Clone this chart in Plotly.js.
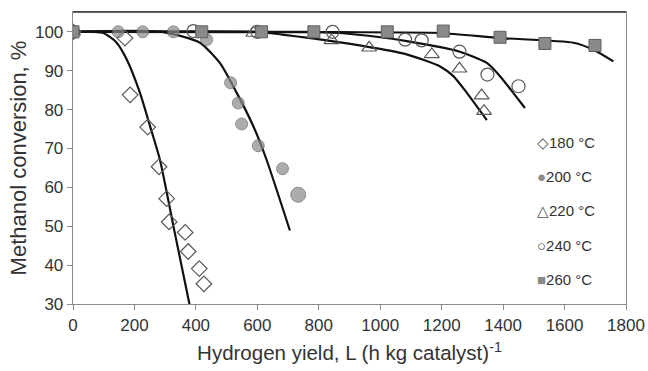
<!DOCTYPE html>
<html>
<head>
<meta charset="utf-8">
<script src="https://cdn.plot.ly/plotly-3.0.1.min.js"></script>
<style>html,body{margin:0;padding:0;background:#fff;}#chart{width:648px;height:371px;}</style>
</head>
<body>
<div id="chart"></div>
<script>
// Measured points
const x180 = [0, 169, 186, 243, 280, 305, 313, 365, 375, 411, 426];
const y180 = [100, 98.4, 83.8, 75.5, 65.3, 57.1, 51.1, 48.4, 43.5, 39.1, 35.2];
const x200 = [0, 147, 227, 327, 435, 513, 538, 549, 603, 682, 733];
const y200 = [100, 100, 100, 100, 98.0, 86.9, 81.7, 76.3, 70.7, 64.8, 58.1];
const s200 = [12, 12, 12, 12, 12, 12, 12, 12, 12, 12, 15];
const x220 = [0, 587, 842, 964, 1168, 1258, 1330, 1338];
const y220 = [100, 99.7, 97.8, 95.9, 94.2, 90.5, 83.6, 79.6];
const x240 = [0, 392, 600, 845, 1081, 1135, 1258, 1349, 1450];
const y240 = [100, 100.2, 100, 100, 98.0, 97.8, 94.9, 89.0, 86.0];
const x260 = [0, 419, 614, 784, 1023, 1205, 1390, 1536, 1699];
const y260 = [100, 100, 100, 100, 100, 100.2, 98.6, 97.0, 96.5];

// Model curves
const fx180 = [0, 66, 99, 140, 175, 218, 251, 283, 330, 379];
const fy180 = [100, 100, 99.7, 97.4, 92.9, 84.3, 75.7, 67.1, 48.8, 30];
const fx200 = [0, 290, 413, 478, 533, 587, 630, 706];
const fy200 = [100, 100, 97.2, 92.0, 84.3, 75.7, 67.1, 48.9];
const fx220 = [0, 600, 680, 780, 870, 1000, 1086, 1195, 1238, 1282, 1347];
const fy220 = [100, 100, 99.3, 98.3, 97.3, 95.6, 94.2, 91.1, 88.6, 84.3, 77.3];
const fx240 = [0, 780, 869, 1000, 1086, 1254, 1347, 1390, 1433, 1471];
const fy240 = [100, 100, 99.7, 98.6, 97.6, 95.0, 92.0, 88.6, 84.3, 80.4];
const fx260 = [0, 870, 1195, 1390, 1629, 1694, 1759];
const fy260 = [100, 99.9, 99.7, 98.4, 97.2, 95.4, 92.4];

const legendLabels = ['180 °C', '200 °C', '220 °C', '240 °C', '260 °C'];
const legendGlyphs = ['◇', '●', '△', '○', '■'];
const xTicks = [0, 200, 400, 600, 800, 1000, 1200, 1400, 1600, 1800];
const yTicks = [30, 40, 50, 60, 70, 80, 90, 100];

const gray = '#8a8a8a', edge = '#5e5e5e', openEdge = '#595959';
const fitLine = {color: '#111', width: 2.2, shape: 'spline', smoothing: 0.6};
function fit(x, y) { return {x, y, mode: 'lines', line: fitLine, showlegend: false, hoverinfo: 'skip'}; }

const traces = [
  fit(fx180, fy180), fit(fx200, fy200), fit(fx220, fy220), fit(fx240, fy240), fit(fx260, fy260),
  {x: x180, y: y180, mode: 'markers', name: legendLabels[0], showlegend: false,
   marker: {symbol: 'diamond-open', size: 12, color: openEdge, line: {width: 1.2}}},
  {x: x200, y: y200, mode: 'markers', name: legendLabels[1], showlegend: false,
   marker: {symbol: 'circle', size: s200, color: gray, line: {color: edge, width: 1}}},
  {x: x220, y: y220, mode: 'markers', name: legendLabels[2], showlegend: false,
   marker: {symbol: 'triangle-up-open', size: 13, color: openEdge, line: {width: 1.2}}},
  {x: x240, y: y240, mode: 'markers', name: legendLabels[3], showlegend: false,
   marker: {symbol: 'circle-open', size: 13, color: openEdge, line: {width: 1.2}}},
  {x: x260, y: y260, mode: 'markers', name: legendLabels[4], showlegend: false,
   marker: {symbol: 'square', size: 12, color: gray, line: {color: edge, width: 1}}}
];

const legY = [0.552, 0.435, 0.319, 0.201, 0.083];
const glyphColors = ['#555', gray, '#555', '#555', gray];
const annotations = legendLabels.map((t, i) => ({
  xref: 'paper', yref: 'paper', x: 0.836, y: legY[i], xanchor: 'left', yanchor: 'middle',
  showarrow: false,
  text: '<span style="color:' + glyphColors[i] + '">' + legendGlyphs[i] + '</span>' + t,
  font: {family: 'Liberation Sans, Arial, sans-serif', size: 15, color: '#333'}
}));

const layout = {
  width: 648, height: 371,
  margin: {l: 73, r: 22, t: 12, b: 67},
  paper_bgcolor: '#fff', plot_bgcolor: '#fff',
  font: {family: 'Liberation Sans, Arial, sans-serif', color: '#333'},
  showlegend: false,
  xaxis: {
    range: [0, 1800], tickvals: xTicks, ticktext: xTicks.map(String),
    showgrid: false, zeroline: false, showline: true, mirror: true,
    linecolor: '#8c8c8c', linewidth: 1.3, ticks: 'outside', ticklen: 5, tickcolor: '#8c8c8c',
    tickfont: {size: 17, color: '#333'},
    title: {text: 'Hydrogen yield, L (h kg catalyst)<sup>-1</sup>', font: {size: 20.5, color: '#333'}, standoff: 12}
  },
  yaxis: {
    range: [30, 105.1], tickvals: yTicks, ticktext: yTicks.map(String),
    showgrid: false, zeroline: false, showline: true, mirror: true,
    linecolor: '#8c8c8c', linewidth: 1.3, ticks: 'outside', ticklen: 5, tickcolor: '#8c8c8c',
    tickfont: {size: 17, color: '#333'},
    title: {text: 'Methanol conversion, %', font: {size: 22, color: '#333'}, standoff: 2}
  },
  shapes: [{type: 'line', xref: 'paper', yref: 'paper', x0: 0, x1: 1, y0: 1, y1: 1,
            line: {color: '#333', width: 1.3}}],
  annotations: annotations
};

Plotly.newPlot('chart', traces, layout, {staticPlot: true, displayModeBar: false});
</script>
</body>
</html>
